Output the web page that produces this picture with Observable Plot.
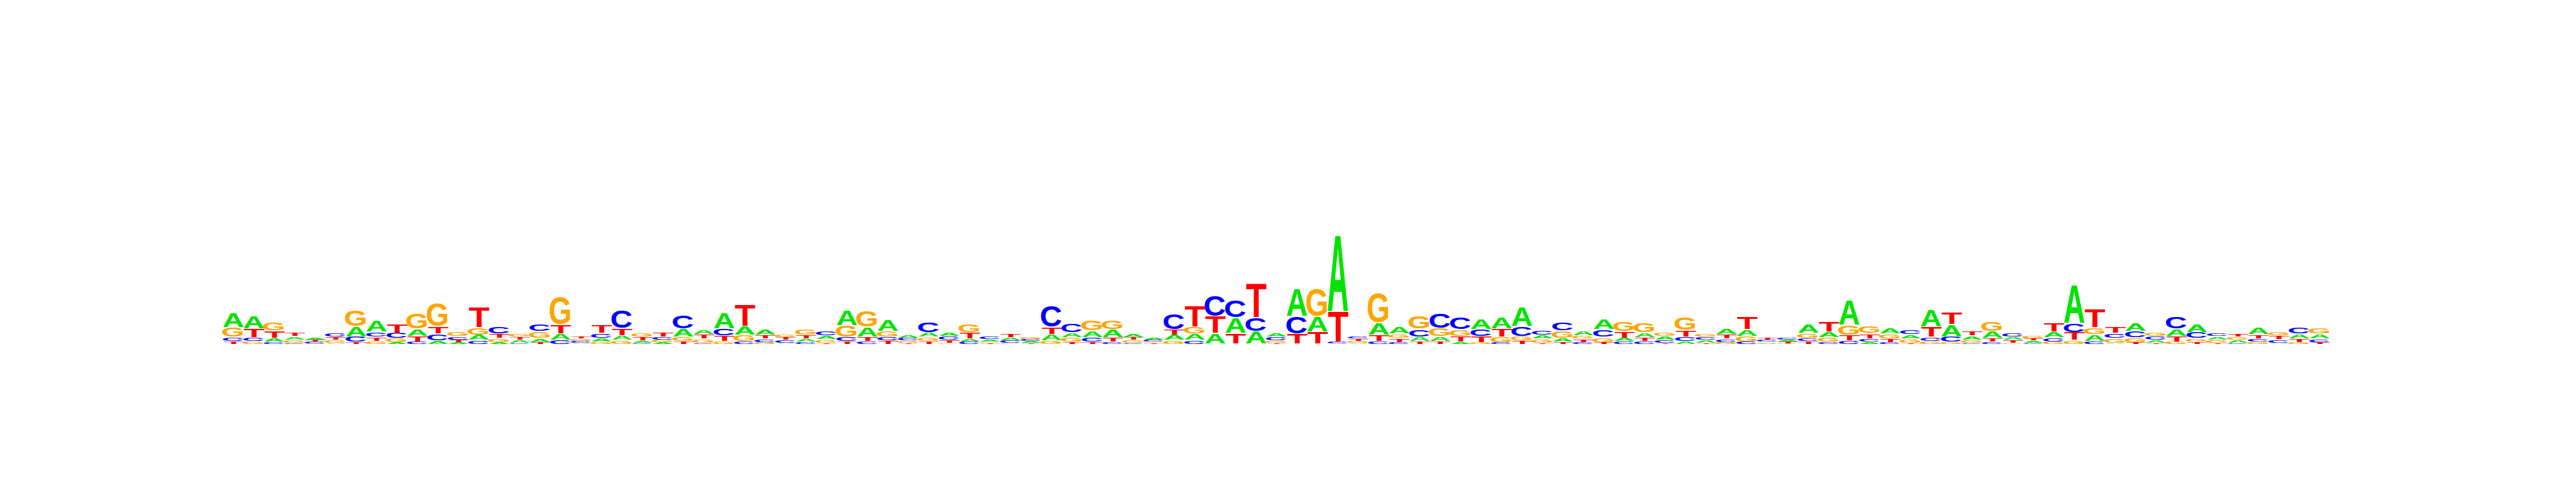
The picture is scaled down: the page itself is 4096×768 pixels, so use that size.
<!DOCTYPE html>
<html><head><meta charset="utf-8">
<script src="https://cdn.jsdelivr.net/npm/d3@7"></script>
<script src="https://cdn.jsdelivr.net/npm/@observablehq/plot@0.6"></script>
<style>html,body{margin:0;padding:0;background:#fff;overflow:hidden}</style>
</head><body><div id="chart"></div>
<script>
// Sequence logo: information (bits) carried by each base at each of 103 positions
const positions = d3.range(1, 104);
const letters = ["A", "C", "G", "T"];
const letterColors = ["#00e400", "#0000ff", "#ffa500", "#ff0000"];

const bitsA = [0.277,0.24,0.073,0.063,0.04,0.027,0.193,0.21,0.033,0.14,
0.067,0.037,0.1,0.033,0.05,0.08,0.113,0.027,0.073,0.09,
0.043,0.033,0.143,0.09,0.3,0.167,0.107,0.027,0.06,0.073,
0.283,0.183,0.213,0.06,0.083,0.073,0.053,0.043,0.057,0.03,
0.113,0.093,0.123,0.153,0.067,0.037,0.097,0.117,0.203,0.287,
0.237,0.077,0.513,0.287,1.427,0.02,0.223,0.133,0.083,0.093,
0.043,0.193,0.207,0.37,0.077,0.073,0.087,0.2,0.067,0.093,
0.07,0.06,0.057,0.107,0.123,0.017,0.033,0.167,0.103,0.473,
0.043,0.103,0.08,0.31,0.227,0.073,0.133,0.06,0.04,0.11,
0.717,0.123,0.027,0.15,0.057,0.137,0.15,0.063,0.05,0.13,
0.027,0.09,0.093];

const bitsC = [0.073,0.08,0.043,0.027,0.03,0.07,0.1,0.097,0.1,0.05,
0.127,0.063,0.077,0.133,0.027,0.14,0.087,0.033,0.09,0.33,
0.027,0.057,0.267,0.027,0.13,0.06,0.063,0.05,0.043,0.083,
0.083,0.057,0.07,0.053,0.2,0.07,0.05,0.05,0.053,0.043,
0.4,0.173,0.083,0.043,0.027,0.033,0.287,0.077,0.383,0.327,
0.263,0.07,0.327,0.007,0.037,0.047,0.06,0.037,0.143,0.283,
0.233,0.13,0.037,0.18,0.09,0.15,0.037,0.143,0.053,0.057,
0.05,0.083,0.06,0.063,0.05,0.04,0.04,0.067,0.043,0.07,
0.067,0.037,0.087,0.077,0.1,0.027,0.043,0.077,0.027,0.077,
0.17,0.06,0.093,0.117,0.073,0.233,0.117,0.067,0.027,0.067,
0.067,0.117,0.063];

const bitsG = [0.177,0.053,0.147,0.06,0.013,0.05,0.307,0.06,0.083,0.29,
0.423,0.083,0.14,0.08,0.067,0.127,0.517,0.04,0.043,0.077,
0.073,0.053,0.09,0.077,0.057,0.117,0.037,0.067,0.11,0.067,
0.213,0.307,0.107,0.037,0.077,0.027,0.157,0.027,0.023,0.047,
0.073,0.083,0.2,0.163,0.05,0.027,0.077,0.13,0.007,0.007,
0.007,0.043,0.007,0.523,0.007,0.04,0.56,0.08,0.24,0.15,
0.127,0.037,0.107,0.087,0.073,0.143,0.067,0.097,0.183,0.177,
0.073,0.25,0.067,0.037,0.103,0.027,0.017,0.09,0.09,0.183,
0.14,0.097,0.077,0.06,0.043,0.06,0.177,0.027,0.057,0.05,
0.077,0.127,0.09,0.09,0.077,0.05,0.067,0.06,0.06,0.043,
0.077,0.037,0.1];

const bitsT = [0.06,0.16,0.137,0.08,0.037,0.063,0.043,0.077,0.16,0.103,
0.14,0.05,0.377,0.083,0.06,0.037,0.167,0.043,0.147,0.137,
0.067,0.09,0.053,0.083,0.107,0.41,0.077,0.053,0.073,0.027,
0.053,0.087,0.067,0.027,0.06,0.05,0.117,0.023,0.067,0.023,
0.133,0.043,0.043,0.083,0.053,0.023,0.103,0.387,0.313,0.203,
0.637,0.027,0.193,0.223,0.58,0.043,0.117,0.077,0.06,0.06,
0.107,0.117,0.143,0.067,0.027,0.043,0.063,0.037,0.123,0.067,
0.027,0.117,0.027,0.087,0.243,0.043,0.03,0.053,0.197,0.107,
0.093,0.067,0.027,0.19,0.233,0.083,0.073,0.057,0.043,0.173,
0.147,0.35,0.123,0.037,0.027,0.1,0.043,0.027,0.063,0.077,
0.073,0.073,0.037];

const series = {A: bitsA, C: bitsC, G: bitsG, T: bitsT};

// Stack each column: smallest at the bottom, largest on top
const rows = [];
positions.forEach((p, i) => {
  const col = letters.map(l => ({letter: l, bits: series[l][i]}))
    .sort((a, b) => a.bits - b.bits);
  let y = 0;
  for (const c of col) {
    rows.push({pos: p, letter: c.letter, y1: y, y2: y + c.bits});
    y += c.bits;
  }
});

const svg = Plot.plot({
  width: 4096,
  height: 768,
  marginLeft: 372,
  marginRight: 374,
  marginTop: 376,
  marginBottom: 221,
  style: {background: "#fff"},
  x: {type: "band", domain: positions, padding: 0, axis: null},
  y: {domain: [0, 2], axis: null},
  color: {domain: letters, range: letterColors},
  marks: [
    Plot.barY(rows, {x: "pos", y1: "y1", y2: "y2", fill: "letter", title: "letter", inset: 0})
  ]
});
document.getElementById("chart").appendChild(svg);

// Turn each bar into a stretched letter glyph occupying the bar's box
const ctx = document.createElement("canvas").getContext("2d");
const FONT = "Liberation Sans";
ctx.font = `bold 100px '${FONT}'`;
const metrics = {};
for (const l of letters) {
  const m = ctx.measureText(l);
  metrics[l] = {x0: -m.actualBoundingBoxLeft, x1: m.actualBoundingBoxRight,
                y0: -m.actualBoundingBoxAscent, y1: m.actualBoundingBoxDescent};
}
const colorOf = Object.fromEntries(letters.map((l, i) => [l, letterColors[i]]));
const ns = "http://www.w3.org/2000/svg";
svg.querySelectorAll('g[aria-label="bar"] rect').forEach(r => {
  const titleEl = r.querySelector("title");
  const letter = titleEl ? titleEl.textContent.trim() : null;
  if (!letter || !metrics[letter]) return;
  const x = +r.getAttribute("x"), y = +r.getAttribute("y");
  const w = +r.getAttribute("width"), h = +r.getAttribute("height");
  const gap = Math.min(1.3, h * 0.25);
  const gh = Math.max(h - gap, 0.3);
  const m = metrics[letter];
  const sx = w / (m.x1 - m.x0), sy = gh / (m.y1 - m.y0);
  const t = document.createElementNS(ns, "text");
  t.textContent = letter;
  t.setAttribute("font-family", FONT);
  t.setAttribute("font-weight", "bold");
  t.setAttribute("font-size", "100");
  t.setAttribute("fill", colorOf[letter]);
  t.setAttribute("transform",
    `translate(${x},${y + gap}) scale(${sx},${sy}) translate(${-m.x0},${-m.y0})`);
  r.replaceWith(t);
});
</script>
</body></html>
